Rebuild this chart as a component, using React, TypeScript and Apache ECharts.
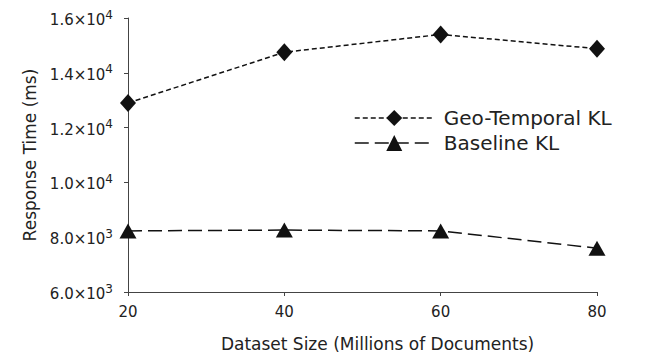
import React, { useEffect, useRef } from "react";
import * as echarts from "echarts";

const categories = [20, 40, 60, 80];
const geoTemporal = [12900, 14750, 15400, 14880];
const baseline = [8230, 8260, 8230, 7600];
const yTicks = [6000, 8000, 10000, 12000, 14000, 16000];

function sci(v: number): string {
  if (v === 0) return "0";
  const e = Math.floor(Math.log10(Math.abs(v)));
  const m = v / Math.pow(10, e);
  return "{b|" + m.toFixed(1) + "×10}{s|" + e + "}";
}

export default function App() {
  const ref = useRef<HTMLDivElement>(null);
  useEffect(() => {
    if (!ref.current) return;
    const chart = echarts.init(ref.current, undefined, { renderer: "svg" });
    const font = "DejaVu Sans";
    chart.setOption({
      animation: false,
      backgroundColor: "#fff",
      textStyle: { fontFamily: font },
      grid: { left: 128, right: 55, top: 18, bottom: 60, containLabel: false, outerBoundsMode: "none" },
      legend: {
        orient: "vertical",
        left: 349,
        top: 103,
        itemWidth: 79,
        itemHeight: 20,
        itemGap: 5,
        textStyle: { fontFamily: font, fontSize: 20, color: "#222", padding: [0, 0, 0, 5] },
        data: [
          { name: "Geo-Temporal KL", lineStyle: { type: [5, 3], width: 1.5 } },
          { name: "Baseline KL", lineStyle: { type: [14, 6], width: 1.5 } },
        ],
      },
      xAxis: {
        type: "value",
        min: 20,
        max: 80,
        interval: 20,
        name: "Dataset Size (Millions of Documents)",
        nameLocation: "middle",
        nameGap: 43,
        nameTextStyle: { fontFamily: font, fontSize: 17, color: "#222", padding: [0, 0, 0, 30] },
        axisLine: { lineStyle: { color: "#444", width: 1 } },
        axisTick: { show: true, length: 4, lineStyle: { color: "#444" } },
        axisLabel: { fontFamily: font, fontSize: 15, color: "#222", margin: 12 },
        splitLine: { show: false },
      },
      yAxis: {
        type: "value",
        min: yTicks[0],
        max: yTicks[yTicks.length - 1],
        interval: 2000,
        name: "Response Time (ms)",
        nameLocation: "middle",
        nameGap: 89,
        nameTextStyle: { fontFamily: font, fontSize: 17, color: "#222" },
        axisLine: { show: true, lineStyle: { color: "#444", width: 1 } },
        axisTick: { show: true, length: 4, lineStyle: { color: "#444" } },
        axisLabel: {
          fontFamily: font,
          color: "#222",
          margin: 15,
          formatter: (v: number) => sci(v),
          rich: {
            b: { fontFamily: font, fontSize: 15, color: "#222", lineHeight: 19, verticalAlign: "bottom" },
            s: { fontFamily: font, fontSize: 12, color: "#222", lineHeight: 12, verticalAlign: "top" },
          },
        },
        splitLine: { show: false },
      },
      series: [
        {
          name: "Geo-Temporal KL",
          type: "line",
          data: categories.map((c, i) => [c, geoTemporal[i]]),
          symbol: "diamond",
          symbolSize: [16, 18],
          itemStyle: { color: "#111" },
          lineStyle: { color: "#111", width: 1.5, type: [5, 3] },
        },
        {
          name: "Baseline KL",
          type: "line",
          data: categories.map((c, i) => [c, baseline[i]]),
          symbol: "triangle",
          symbolSize: [17, 15],
          itemStyle: { color: "#111" },
          lineStyle: { color: "#111", width: 1.5, type: [14, 6] },
        },
      ],
    });
    return () => chart.dispose();
  }, []);
  return <div ref={ref} style={{ position: "absolute", left: 0, top: 0, width: 652, height: 352 }} />;
}
